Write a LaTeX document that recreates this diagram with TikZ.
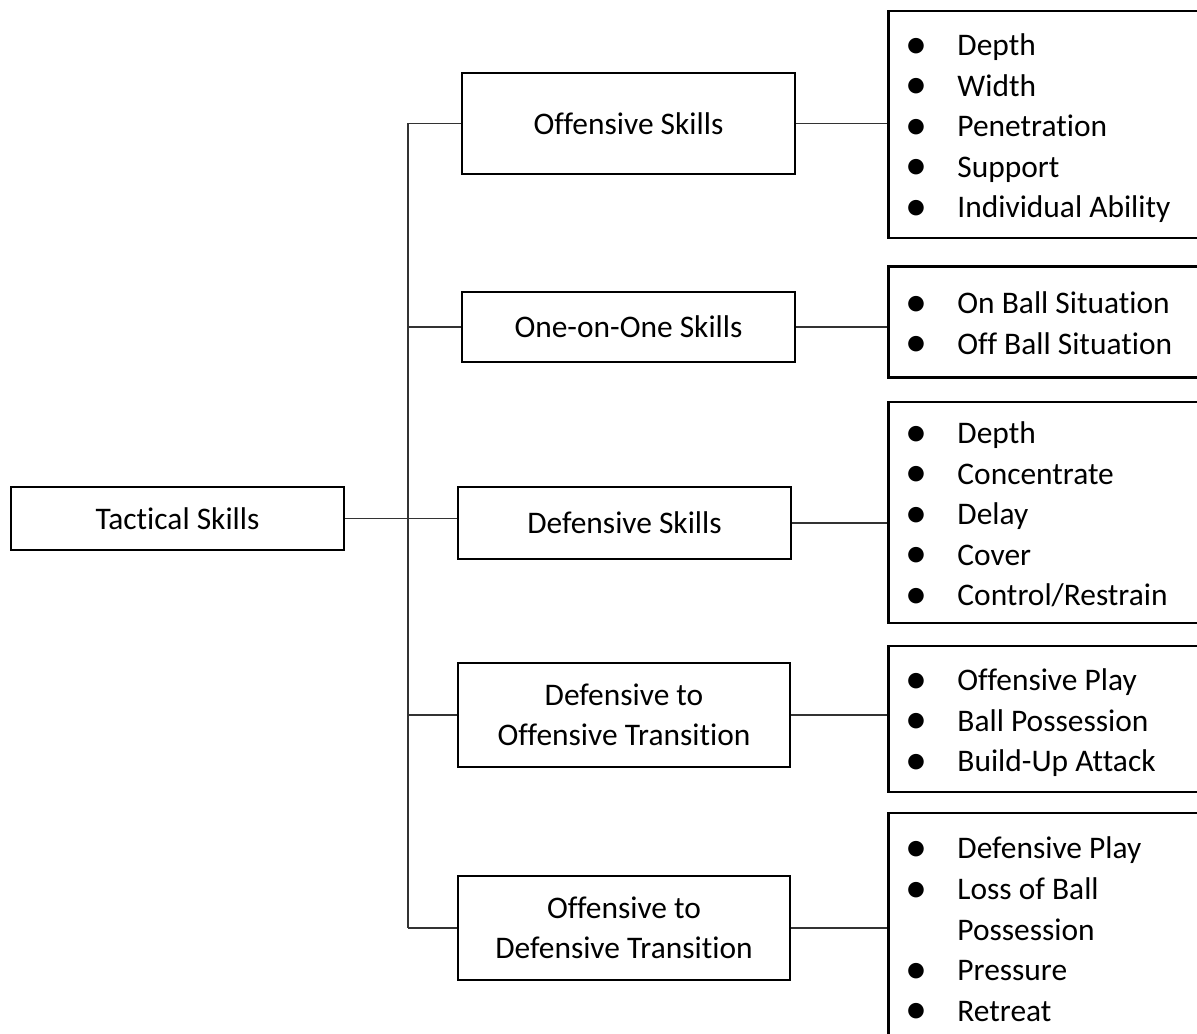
\documentclass[tikz,border=0pt]{standalone}
\usepackage{fontspec}
\setmainfont{Carlito}[Ligatures=NoCommon]

\newcommand{\bul}[1]{\mbox{\spaceskip=0pt\rule[-2.86pt]{0pt}{14.2pt}\makebox[16.5pt][l]{\hspace*{-1.6pt}\raisebox{-.9pt}{\scalebox{1.4}{\textbullet}}}#1}}
\newcommand{\nobul}[1]{\mbox{\spaceskip=0pt\rule[-2.86pt]{0pt}{14.2pt}\hspace*{16.5pt}#1}}

\begin{document}
\begin{tikzpicture}[x=.35pt, y=-.35pt, font=\fontsize{11}{14.2}\selectfont,
  box/.style={draw, line width=.9pt, align=center, minimum width=116.6pt, inner sep=0pt},
  list/.style={draw, line width=.9pt, anchor=west, align=left, text width=120pt, inner xsep=7.7pt, inner ysep=0pt},
  link/.style={draw=black!80, line width=.45pt}]
\useasboundingbox (0,0) rectangle (1197,1034);
\clip (0,0) rectangle (1197,1034);
%
\node[box, minimum height=22.1pt] (tact) at (177.5,518.5) {Tactical Skills};
\node[box, minimum height=35.4pt] (off) at (628.5,123.5) {Offensive Skills};
\node[box, minimum height=24.5pt] (one) at (628.5,327) {One-on-One Skills};
\node[box, minimum height=25.2pt] (dfs) at (624.5,523) {Defensive Skills};
\node[box, minimum height=36.4pt, minimum width=116.2pt] (dot) at (624,715) {Defensive to\\Offensive Transition};
\node[box, minimum height=36.4pt, minimum width=116.2pt] (otd) at (624,928) {Offensive to\\Defensive Transition};
%
\node[list, minimum height=79.5pt] (offl) at (887,124.5) {\bul{Depth}\\\bul{Width}\\\bul{Penetration}\\\bul{Support}\\\bul{Individual Ability}};
\node[list, minimum height=38.9pt] (onel) at (887,322) {\bul{On Ball Situation}\\\bul{Off Ball Situation}};
\node[list, minimum height=77.4pt] (dfsl) at (887,512.5) {\bul{Depth}\\\bul{Concentrate}\\\bul{Delay}\\\bul{Cover}\\\bul{Control/Restrain}};
\node[list, minimum height=51.1pt] (dotl) at (887,719) {\bul{Offensive Play}\\\bul{Ball Possession}\\\bul{Build-Up Attack}};
\node[list, minimum height=80.5pt] (otdl) at (887,928) {\bul{Defensive Play}\\\bul{Loss of Ball}\\\nobul{Possession}\\\bul{Pressure}\\\bul{Retreat}};
%
\coordinate (jn) at (408,518.5);
\draw[link] (tact.east) -- (tact.east -| dfs.west);
\draw[link] (off.west -| jn) -- (otd.west -| jn);
\foreach \n in {off,one,dot,otd}
  \draw[link] (\n.west) -- (\n.west -| jn);
\foreach \a/\b in {off/offl,one/onel,dfs/dfsl,dot/dotl,otd/otdl}
  \draw[link] (\a.east) -- (\a.east -| \b.west);
\end{tikzpicture}
\end{document}
